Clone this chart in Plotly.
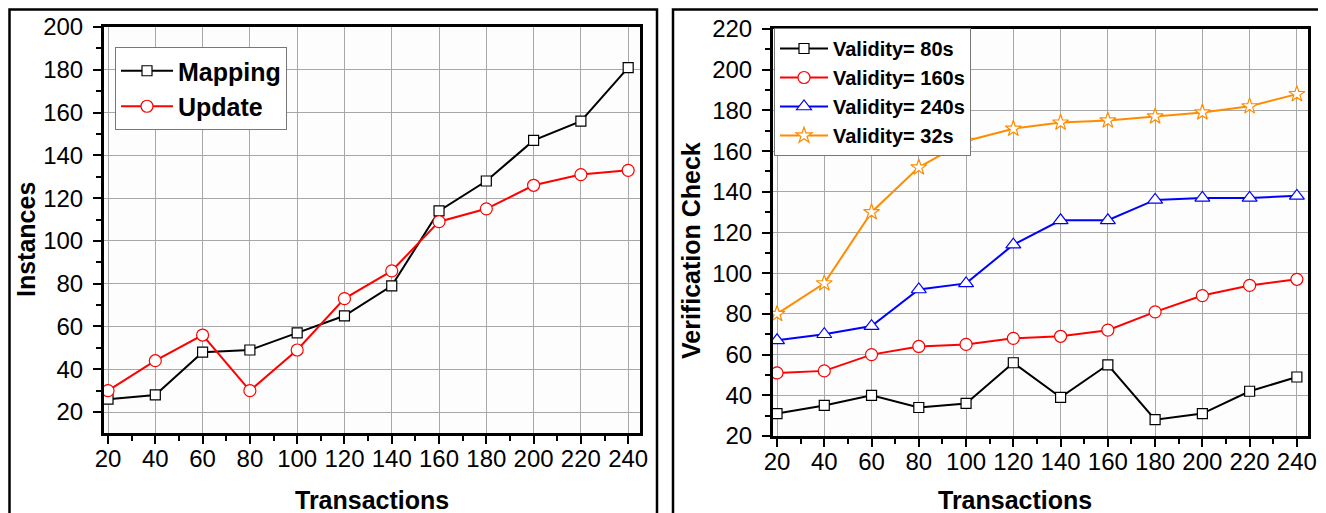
import plotly.graph_objects as go

W, H = 1326, 513
OFF = 8  # default page body margin in the browser

transactions = [20, 40, 60, 80, 100, 120, 140, 160, 180, 200, 220, 240]

mapping = [26, 28, 48, 49, 57, 65, 79, 114, 128, 147, 156, 181]
update = [30, 44, 56, 30, 49, 73, 86, 109, 115, 126, 131, 133]

validity_80 = [31, 35, 40, 34, 36, 56, 39, 55, 28, 31, 42, 49]
validity_160 = [51, 52, 60, 64, 65, 68, 69, 72, 81, 89, 94, 97]
validity_240 = [67, 70, 74, 92, 95, 114, 126, 126, 136, 137, 137, 138]
validity_32 = [80, 95, 130, 152, 165, 171, 174, 175, 177, 179, 182, 188]

FONT = "Liberation Sans, Arial, sans-serif"

def px(x):
    return (x - OFF) / W

def py(y):
    return 1 - (y - OFF) / H

fig = go.Figure()

def add(x, y, name, color, symbol, size, xa, ya, legend):
    fig.add_trace(go.Scatter(
        x=x, y=y, name=name, mode="lines+markers",
        line=dict(color=color, width=2),
        marker=dict(symbol=symbol, size=size, color="white",
                    line=dict(color=color, width=1.2)),
        xaxis=xa, yaxis=ya, legend=legend))

add(transactions, mapping, "Mapping", "black", "square", 10, "x", "y", "legend")
add(transactions, update, "Update", "red", "circle", 12, "x", "y", "legend")

add(transactions, validity_80, "Validity= 80s", "black", "square", 10, "x2", "y2", "legend2")
add(transactions, validity_160, "Validity= 160s", "red", "circle", 12, "x2", "y2", "legend2")
add(transactions, validity_240, "Validity= 240s", "blue", "triangle-up", 13, "x2", "y2", "legend2")
add(transactions, validity_32, "Validity= 32s", "#ff8c00", "star", 12, "x2", "y2", "legend2")

axis_common = dict(
    showline=True, linecolor="black", linewidth=3, mirror=True,
    ticks="outside", ticklen=8, tickwidth=2, tickcolor="black",
    showgrid=True, gridcolor="#a8a8a8", gridwidth=1,
    zeroline=False, automargin=False,
    tickfont=dict(family=FONT, size=24, color="black"),
    minor=dict(ticks="outside", ticklen=5, tickwidth=2, tickcolor="black", showgrid=False),
)

fig.update_layout(
    width=W, height=H,
    margin=dict(l=0, r=0, t=0, b=0),
    paper_bgcolor="white",
    plot_bgcolor="#fdfdfd",
    font=dict(family=FONT, color="black"),
    xaxis=dict(domain=[px(104), px(640)], range=[18.3, 245], tickvals=transactions,
               minor_dtick=10, anchor="y", ticklabelstandoff=-6, **axis_common),
    yaxis=dict(domain=[py(433), py(27)], range=[10.2, 200], tickvals=list(range(20, 201, 20)),
               minor_dtick=10, anchor="x", ticklabelstandoff=5, **axis_common),
    xaxis2=dict(domain=[px(773), px(1308)], range=[18.3, 244.7], tickvals=transactions,
                minor_dtick=10, anchor="y2", ticklabelstandoff=-6, **axis_common),
    yaxis2=dict(domain=[py(436), py(29)], range=[20, 220], tickvals=list(range(20, 221, 20)),
                minor_dtick=10, anchor="x2", ticklabelstandoff=5, **axis_common),
    legend=dict(x=px(115), y=py(47), xanchor="left", yanchor="top",
                bgcolor="white", bordercolor="#777777", borderwidth=1,
                font=dict(family=FONT, size=25, color="black", weight="bold"),
                itemwidth=52, tracegroupgap=0),
    legend2=dict(x=px(774), y=py(28), xanchor="left", yanchor="top",
                 bgcolor="white", bordercolor="#777777", borderwidth=1,
                 font=dict(family=FONT, size=20, color="black", weight="bold"),
                 itemwidth=48, tracegroupgap=0),
    showlegend=True,
)

# outer frames
for x0, x1 in [(9.5, 657), (673, 1322)]:
    fig.add_shape(type="rect", xref="paper", yref="paper",
                  x0=px(x0), x1=px(x1), y0=py(530), y1=py(9.5),
                  line=dict(color="black", width=2.5), fillcolor="rgba(0,0,0,0)", layer="below")

title_font = dict(family=FONT, size=25, color="black", weight="bold")
ann = dict(xref="paper", yref="paper", showarrow=False, font=title_font,
           xanchor="center", yanchor="middle")
fig.add_annotation(text="Instances", x=px(26), y=py(240), textangle=-90, **ann)
fig.add_annotation(text="Transactions", x=px(372), y=py(500), **ann)
fig.add_annotation(text="Verification Check", x=px(691), y=py(250), textangle=-90, **ann)
fig.add_annotation(text="Transactions", x=px(1015), y=py(500), **ann)

fig.write_html("out.html")
